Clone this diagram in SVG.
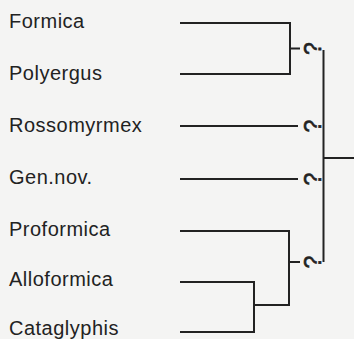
<svg xmlns="http://www.w3.org/2000/svg" width="354" height="339" viewBox="0 0 354 339">
<style>
.lbl{font-family:"Liberation Sans",Arial,sans-serif;font-size:20px;letter-spacing:0.5px;fill:#222;}
.q{font-family:"Liberation Sans",Arial,sans-serif;font-size:23px;fill:#222;text-anchor:middle;stroke:#222;stroke-width:0.6;}
.c{stroke:#222;stroke-width:2;fill:none;}
</style>
<rect width="354" height="339" fill="#f4f4f3"/>
<g id="taxon-formica"><text class="lbl" x="9" y="28">Formica</text></g>
<g id="taxon-polyergus"><text class="lbl" x="9" y="80">Polyergus</text></g>
<g id="taxon-rossomyrmex"><text class="lbl" x="9" y="132">Rossomyrmex</text></g>
<g id="taxon-gennov"><text class="lbl" x="9" y="184">Gen.nov.</text></g>
<g id="taxon-proformica"><text class="lbl" x="9" y="236">Proformica</text></g>
<g id="taxon-alloformica"><text class="lbl" x="9" y="286">Alloformica</text></g>
<g id="taxon-cataglyphis"><text class="lbl" x="9" y="335">Cataglyphis</text></g>
<g id="connectors">
<path class="c" d="M180 23H290V74H180"/>
<path class="c" d="M290 48.5H300"/>
<path class="c" d="M180 126H298"/>
<path class="c" d="M180 179H298"/>
<path class="c" d="M180 231H289V305H254"/>
<path class="c" d="M180 282H254V332H180"/>
<path class="c" d="M289 262H300"/>
<path class="c" d="M323.5 50V262"/>
<path class="c" d="M323.5 158H354"/>
</g>
<g id="uncertainty-marks">
<text class="q" transform="translate(321 48.5) rotate(-90)">?</text>
<text class="q" transform="translate(321 126) rotate(-90)">?</text>
<text class="q" transform="translate(321 179) rotate(-90)">?</text>
<text class="q" transform="translate(321 262) rotate(-90)">?</text>
</g>
</svg>
